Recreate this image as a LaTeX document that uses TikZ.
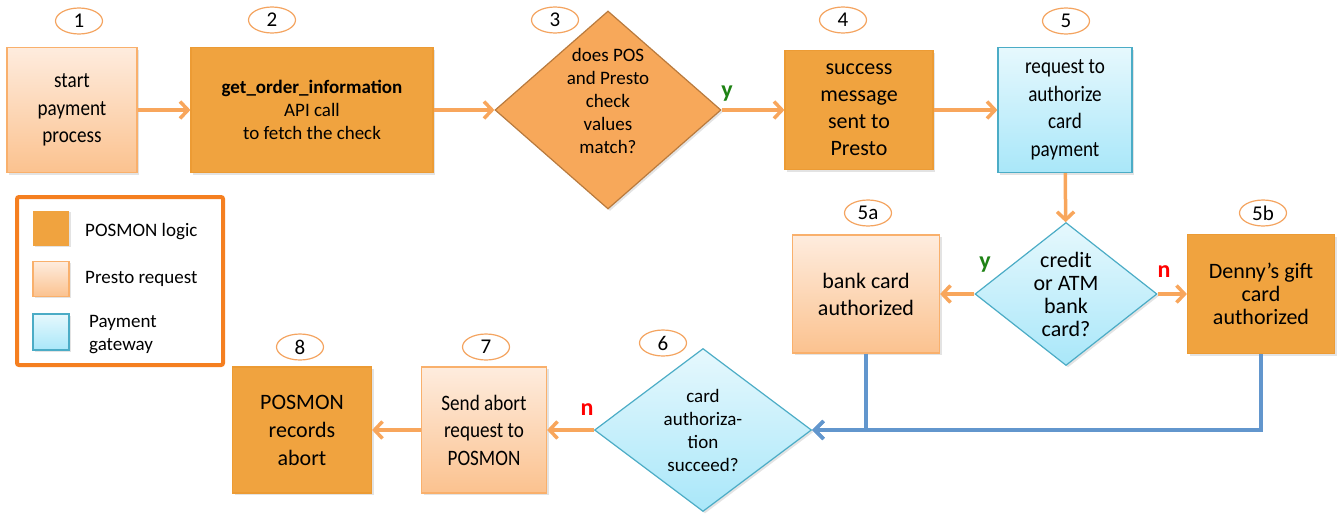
\documentclass[tikz,border=0pt]{standalone}
\usepackage{fontspec}
\setmainfont{Carlito}
\newfontfamily\narrowfont[FakeStretch=0.87]{Carlito}
\usetikzlibrary{shapes.geometric,arrows.meta,shadows}
\definecolor{posmonfill}{RGB}{240,163,63}
\definecolor{posmonline}{RGB}{236,155,52}
\definecolor{prestotop}{RGB}{254,236,222}
\definecolor{prestobot}{RGB}{251,194,143}
\definecolor{prestoline}{RGB}{249,176,108}
\definecolor{gatetop}{RGB}{230,248,253}
\definecolor{gatebot}{RGB}{169,231,249}
\definecolor{gateline}{RGB}{75,172,198}
\definecolor{checkfill}{RGB}{247,168,90}
\definecolor{checkline}{RGB}{185,122,61}
\definecolor{ovalline}{RGB}{244,164,96}
\definecolor{flowline}{RGB}{248,166,92}
\definecolor{linkline}{RGB}{98,150,205}
\definecolor{legendline}{RGB}{245,127,32}
\definecolor{yesgreen}{RGB}{30,130,20}
\definecolor{nored}{RGB}{255,0,0}

\begin{document}
\begin{tikzpicture}[x=1pt,y=-1pt]
    \tikzset{box/.style={rectangle,draw,align=center,inner sep=2pt,line width=1.2pt,
                drop shadow={opacity=0.22,shadow xshift=2pt,shadow yshift=-2pt}},
        posmon/.style={box,draw=posmonline,fill=posmonfill,font=\fontsize{22}{27}\selectfont},
        presto/.style={box,draw=prestoline,top color=prestotop,bottom color=prestobot,
                font=\fontsize{22}{27}\selectfont},
        gateway/.style={box,draw=gateline,top color=gatetop,bottom color=gatebot,
                font=\fontsize{22}{27}\selectfont},
        narrow/.style={font=\narrowfont\fontsize{22}{27.5}\selectfont},
        decision/.style={diamond,draw,align=center,inner sep=0pt,line width=1.2pt,
                drop shadow={opacity=0.22,shadow xshift=2pt,shadow yshift=-2pt}},
        stepnum/.style={ellipse,draw=ovalline,line width=1.2pt,fill=white,inner sep=0pt,
                minimum width=47pt,minimum height=26pt,font=\fontsize{21}{22}\selectfont},
        swatch/.style={rectangle,line width=1.2pt,minimum width=36pt,minimum height=35pt,
                drop shadow={opacity=0.22,shadow xshift=1.5pt,shadow yshift=-1.5pt}},
        keytext/.style={anchor=west,inner sep=0pt,align=left,font=\fontsize{19}{23}\selectfont},
        flow/.style={draw=flowline,line width=3.5pt,-{Straight Barb[length=8pt,width=17pt]}},
        link/.style={draw=linkline,line width=3.5pt,-{Straight Barb[length=9pt,width=18pt]}},
        yes/.style={text=yesgreen,inner sep=0pt,font=\bfseries\fontsize{24}{26}\selectfont},
        no/.style={text=nored,inner sep=0pt,font=\bfseries\fontsize{24}{26}\selectfont}}
    \useasboundingbox (0,0) rectangle (1338,514);

    % top row
    \node[presto,narrow,minimum width=130pt,minimum height=125pt] (start) at (72,110)
        {start\\payment\\process};
    \node[posmon,minimum width=242pt,minimum height=125pt,font=\fontsize{19}{23}\selectfont] (order) at (312,110)
        {\textbf{get\_order\_information}\\API call\\to fetch the check};
    \node[decision,draw=checkline,fill=checkfill,shape aspect=1.14,inner ysep=-9pt,
        minimum width=226pt,minimum height=198pt,font=\fontsize{19}{23}\selectfont] (check) at (608,110)
        {does POS\\and Presto\\check\\values\\match?\rule[-18pt]{0pt}{18pt}};
    \node[posmon,minimum width=148pt,minimum height=119pt] (success) at (859,110)
        {success\\message\\sent to\\Presto};
    \node[gateway,narrow,minimum width=134pt,minimum height=125pt] (authreq) at (1065,110)
        {request to\\authorize\\card\\payment};

    % middle row
    \node[decision,draw=gateline,top color=gatetop,bottom color=gatebot,shape aspect=1.27,
        minimum width=182pt,minimum height=143pt,font=\fontsize{22}{23}\selectfont] (cardtype) at (1066,294)
        {credit\\or ATM\\bank\\card?};
    \node[presto,minimum width=147pt,minimum height=118pt] (bank) at (866,294)
        {bank card\\authorized};
    \node[posmon,minimum width=147pt,minimum height=119pt,font=\fontsize{22}{23}\selectfont] (gift) at (1261,294)
        {Denny’s gift\\card\\authorized};

    % bottom row
    \node[decision,draw=gateline,top color=gatetop,bottom color=gatebot,shape aspect=1.33,
        minimum width=217pt,minimum height=163pt,font=\fontsize{19}{23}\selectfont] (authok) at (703,430)
        {card\\authoriza-\\tion\\succeed?};
    \node[presto,narrow,minimum width=125pt,minimum height=126pt] (abort) at (484,430)
        {Send abort\\request to\\POSMON};
    \node[posmon,minimum width=139pt,minimum height=126pt,font=\fontsize{22}{28}\selectfont] (records) at (302,430)
        {POSMON\\records\\abort};

    % step numbers
    \node[stepnum] (n1) at (79,21) {1};
    \node[stepnum] (n2) at (272,20) {2};
    \node[stepnum] (n3) at (555,20) {3};
    \node[stepnum] (n4) at (843,20) {4};
    \node[stepnum] (n5) at (1066,21) {5};
    \node[stepnum] (n5a) at (868,213) {5a};
    \node[stepnum] (n5b) at (1263,213) {5b};
    \node[stepnum] (n6) at (663,343) {6};
    \node[stepnum] (n7) at (486,347) {7};
    \node[stepnum] (n8) at (300,347) {8};

    % legend
    \node[draw=legendline,line width=4pt,fill=white,rounded corners=2pt,
        minimum width=206pt,minimum height=168pt] (legend) at (120,281) {};
    \node[swatch,fill=posmonfill] (keyposmon) at (51,228) {};
    \node[swatch,draw=prestoline,top color=prestotop,bottom color=prestobot] (keypresto) at (51,279) {};
    \node[swatch,draw=gateline,top color=gatetop,bottom color=gatebot,minimum height=36pt] (keygate) at (51,332) {};
    \node[keytext] (posmonlbl) at (85,232) {POSMON logic};
    \node[keytext] (prestolbl) at (85,279) {Presto request};
    \node[keytext] (gatelbl) at (89,335) {Payment\\gateway};

    % connectors
    \draw[flow] (start) -- (order);
    \draw[flow] (order) -- (check);
    \draw[flow] (check) -- (success);
    \draw[flow] (success) -- (authreq);
    \draw[flow] (authreq) -- (cardtype);
    \draw[flow] (cardtype) -- (bank);
    \draw[flow] (cardtype) -- (gift);
    \draw[link] (bank.south) |- (authok.east);
    \draw[link] (gift.south) |- (authok.east);
    \draw[flow] (authok) -- (abort);
    \draw[flow] (abort) -- (records);

    % answers
    \node[yes] (y1) at (727,94) {y};
    \node[yes] (y2) at (985,265) {y};
    \node[no] (no1) at (1164,272) {n};
    \node[no] (no2) at (587,410) {n};
\end{tikzpicture}
\end{document}
